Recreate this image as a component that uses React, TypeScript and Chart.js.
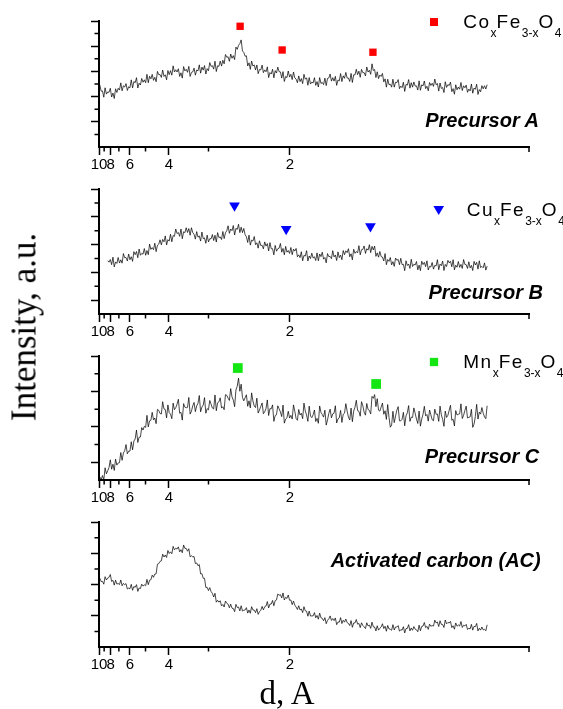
import React, { useEffect, useRef } from 'react';
import { Chart, registerables } from 'chart.js';

Chart.register(...registerables);

// ---------- data ----------
const WAVELENGTH = 1.5406; // Cu K-alpha, Å
const TWO_THETA_START = 9.0;
const TWO_THETA_STEP = 0.25;

const PRECURSOR_A = [
  4.91, 4.43, 4.45, 3.95, 4.7, 4.2, 4.37, 4.34, 4.66, 3.97, 4.28, 3.85, 4.62, 4.33, 4.66, 4.52, 5.09, 4.46, 4.86, 4.76,
  5.03, 4.49, 4.78, 4.7, 5.33, 4.69, 5.2, 5.1, 5.5, 4.68, 5.06, 4.92, 5.44, 5.14, 5.33, 5.1, 5.77, 5.1, 5.62, 5.41,
  5.76, 5.29, 5.53, 5.18, 6.0, 5.74, 5.75, 5.52, 6.11, 5.6, 5.73, 5.33, 6.07, 5.74, 6.06, 5.7, 6.44, 5.95, 6.13, 5.95,
  6.21, 5.6, 5.89, 5.47, 6.38, 6.04, 6.17, 5.93, 6.4, 5.6, 5.92, 5.96, 6.26, 5.7, 6.11, 6.04, 6.52, 5.86, 6.34, 6.1,
  6.46, 5.79, 6.22, 6.05, 6.7, 6.4, 6.45, 6.18, 6.81, 5.99, 6.45, 6.4, 6.82, 6.42, 6.88, 6.6, 7.34, 7.12, 7.16, 6.8,
  7.38, 7.04, 7.25, 6.94, 7.93, 7.75, 8.07, 8.2, 8.5, 7.62, 7.51, 7.2, 7.24, 6.43, 6.68, 6.16, 6.82, 6.43, 6.51, 6.11,
  6.51, 5.82, 6.15, 6.12, 6.5, 5.9, 6.12, 5.97, 6.36, 5.51, 5.91, 5.79, 6.17, 5.49, 6.06, 5.87, 6.34, 5.98, 5.96, 5.47,
  5.98, 5.2, 5.6, 5.51, 6.03, 5.55, 5.77, 5.35, 5.95, 5.49, 5.39, 5.1, 5.64, 5.19, 5.43, 5.03, 5.77, 5.38, 5.49, 4.9,
  5.51, 5.0, 5.15, 5.08, 5.5, 4.89, 5.19, 4.76, 5.51, 5.04, 5.13, 4.95, 5.47, 4.87, 5.44, 5.48, 5.79, 5.23, 5.5, 5.23,
  5.61, 4.89, 5.32, 5.25, 5.83, 5.19, 5.65, 5.45, 5.92, 5.47, 5.47, 5.2, 5.84, 5.12, 5.73, 5.72, 6.17, 5.74, 6.02, 5.53,
  6.16, 5.9, 5.9, 5.64, 6.35, 5.95, 6.09, 5.77, 6.6, 6.07, 6.15, 5.51, 5.97, 5.43, 5.71, 5.6, 5.84, 5.17, 5.41, 4.75,
  5.38, 4.95, 4.98, 4.75, 5.38, 4.75, 5.14, 5.11, 5.35, 4.63, 4.83, 4.71, 5.14, 4.41, 4.97, 4.91, 5.35, 4.67, 5.1, 4.75,
  5.16, 4.83, 4.85, 4.52, 5.25, 4.5, 4.93, 4.85, 5.24, 4.63, 4.82, 4.46, 5.12, 4.88, 5.06, 4.81, 5.39, 4.94, 5.04, 4.44,
  5.08, 4.65, 4.72, 4.32, 5.18, 4.73, 4.95, 4.88, 5.15, 4.39, 4.63, 4.19, 4.94, 4.54, 4.76, 4.59, 5.12, 4.48, 4.86, 4.7,
  4.91, 4.34, 4.6, 4.45, 5.0, 4.27, 4.68, 4.58, 4.98, 4.17, 4.56, 4.38, 4.87, 4.62, 4.86, 4.6, 4.95,
];

const PRECURSOR_B = [
  null, null, null, null, null, null, 3.84, 3.73, 3.92, 3.55, 4.09, 3.39, 3.75, 3.64, 4.07, 3.67, 3.9, 3.66, 4.35, 4.05,
  4.07, 3.82, 4.32, 3.91, 4.12, 3.79, 4.49, 4.27, 4.5, 4.05, 4.68, 4.23, 4.36, 4.31, 4.71, 4.23, 4.57, 4.27, 5.03, 4.65,
  4.78, 4.63, 5.1, 4.49, 4.95, 5.03, 5.34, 4.98, 5.37, 5.2, 5.62, 4.97, 5.35, 5.25, 5.74, 5.2, 5.65, 5.59, 6.12, 5.79,
  5.87, 5.59, 6.12, 5.42, 5.92, 5.86, 6.21, 5.87, 6.15, 5.67, 6.21, 5.86, 5.74, 5.39, 5.93, 5.53, 5.62, 5.25, 5.9, 5.42,
  5.48, 5.09, 5.68, 5.19, 5.42, 5.41, 5.72, 5.29, 5.67, 5.18, 5.86, 5.5, 5.55, 5.36, 5.94, 5.43, 5.85, 5.99, 6.35, 5.81,
  6.12, 6.0, 6.37, 5.69, 6.17, 6.09, 6.46, 5.86, 6.25, 5.86, 6.16, 5.71, 5.56, 5.15, 5.68, 4.96, 5.32, 5.25, 5.58, 4.99,
  5.13, 4.74, 5.27, 4.93, 4.95, 4.69, 5.19, 4.89, 5.07, 4.54, 5.14, 4.7, 4.7, 4.26, 4.94, 4.52, 4.7, 4.74, 5.08, 4.45,
  4.72, 4.26, 4.87, 4.45, 4.57, 4.36, 4.79, 4.27, 4.67, 4.53, 4.72, 4.12, 4.26, 4.06, 4.48, 3.83, 4.22, 4.17, 4.56, 3.82,
  4.18, 3.99, 4.38, 4.03, 4.12, 3.85, 4.4, 3.83, 4.32, 4.13, 4.45, 3.95, 4.07, 3.68, 4.35, 4.13, 4.15, 3.98, 4.56, 4.11,
  4.25, 3.85, 4.47, 4.06, 4.24, 3.91, 4.57, 4.27, 4.55, 4.42, 4.7, 4.12, 4.34, 3.9, 4.66, 4.37, 4.5, 4.4, 4.92, 4.26,
  4.63, 4.65, 4.9, 4.36, 4.7, 4.6, 4.99, 4.42, 4.87, 4.61, 4.89, 4.15, 4.4, 4.09, 4.5, 4.14, 4.1, 3.82, 4.35, 3.55,
  3.92, 3.79, 4.07, 3.54, 3.77, 3.43, 4.03, 3.87, 3.93, 3.55, 4.01, 3.55, 3.58, 3.12, 3.83, 3.49, 3.6, 3.28, 3.94, 3.42,
  3.58, 3.53, 3.78, 3.18, 3.52, 3.12, 3.8, 3.56, 3.72, 3.41, 3.83, 3.17, 3.43, 3.39, 3.71, 3.23, 3.5, 3.46, 3.91, 3.19,
  3.59, 3.48, 3.81, 3.13, 3.57, 3.42, 3.86, 3.68, 3.8, 3.4, 3.91, 3.18, 3.51, 3.37, 3.78, 3.36, 3.57, 3.28, 3.92, 3.57,
  3.55, 3.28, 3.76, 3.32, 3.5, 3.13, 3.79, 3.53, 3.72, 3.23, 3.83, 3.34, 3.43, 3.33, 3.68, 3.16, 3.45,
];

const PRECURSOR_C = [
  0.17, 0.02, 0.25, 0.0, 0.69, 0.35, 0.52, 0.71, 1.14, 0.61, 0.89, 0.54, 1.18, 0.84, 0.96, 0.98, 1.55, 1.11, 1.53, 1.65,
  2.0, 1.48, 1.63, 1.63, 2.16, 1.7, 2.2, 2.32, 2.82, 2.12, 2.42, 2.43, 2.96, 2.82, 3.03, 2.97, 3.65, 3.0, 3.34, 3.37,
  3.82, 3.39, 3.5, 3.18, 3.99, 3.93, 3.75, 3.73, 4.42, 4.01, 3.98, 3.51, 4.24, 3.8, 3.72, 3.46, 4.34, 3.97, 4.08, 4.28,
  4.56, 3.77, 3.82, 3.38, 4.31, 4.11, 4.08, 4.1, 4.66, 3.72, 3.88, 4.19, 4.38, 3.86, 4.18, 4.33, 4.77, 3.85, 4.12, 4.23,
  4.65, 3.77, 4.03, 3.96, 4.49, 4.28, 4.06, 4.01, 4.8, 3.91, 4.36, 4.41, 4.64, 4.06, 4.14, 3.97, 4.82, 4.78, 4.62, 4.49,
  5.16, 4.69, 4.51, 4.14, 5.08, 5.3, 5.75, 5.01, 5.41, 4.66, 4.47, 4.64, 4.81, 4.16, 4.47, 4.07, 4.92, 4.46, 4.18, 4.09,
  4.62, 3.78, 3.95, 4.15, 4.35, 3.74, 3.85, 4.04, 4.52, 3.64, 4.03, 4.02, 4.24, 3.31, 3.64, 3.68, 4.19, 4.02, 3.84, 3.58,
  4.23, 3.21, 3.44, 3.51, 3.88, 3.5, 3.65, 3.44, 4.24, 3.88, 3.47, 3.37, 3.98, 3.67, 3.77, 3.46, 4.34, 3.89, 3.67, 3.31,
  4.17, 3.61, 3.52, 3.68, 3.95, 3.3, 3.48, 3.2, 4.18, 3.81, 3.7, 3.55, 3.94, 3.1, 3.39, 3.76, 4.0, 3.51, 3.73, 3.77,
  4.19, 3.22, 3.45, 3.51, 3.93, 3.25, 3.71, 3.77, 4.31, 3.89, 3.55, 3.39, 4.06, 3.29, 3.89, 4.11, 4.5, 3.92, 3.88, 3.6,
  4.42, 4.19, 3.83, 3.66, 4.32, 3.98, 3.93, 3.73, 4.72, 4.61, 4.82, 4.14, 4.59, 3.94, 3.89, 4.12, 4.34, 3.71, 3.91, 3.42,
  4.26, 3.53, 2.98, 3.1, 3.88, 3.24, 3.61, 3.94, 4.14, 3.34, 3.34, 3.43, 3.82, 3.06, 3.62, 3.79, 4.2, 3.31, 3.55, 3.53,
  4.07, 3.76, 3.44, 3.19, 3.89, 3.04, 3.44, 3.71, 4.16, 3.62, 3.7, 3.32, 3.95, 3.68, 3.4, 3.34, 4.0, 3.71, 3.72, 3.31,
  4.17, 3.68, 3.42, 3.03, 3.89, 3.53, 3.65, 3.94, 4.22, 3.37, 3.43, 3.05, 3.92, 3.67, 3.71, 3.74, 4.3, 3.47, 3.65, 3.93,
  4.17, 3.5, 3.54, 3.56, 3.99, 2.97, 3.15, 3.59, 4.27, 3.44, 3.83, 3.72, 4.09, 3.77, 3.56, 3.46, 4.19,
];

const ACTIVATED_CARBON = [
  4.4, 4.19, 4.2, 4.02, 4.5, 4.29, 4.41, 4.46, 4.64, 4.19, 4.27, 3.96, 4.28, 4.03, 4.06, 4.0, 4.29, 3.92, 4.07, 3.99,
  4.06, 3.71, 3.77, 3.73, 4.01, 3.63, 3.87, 3.82, 3.99, 3.56, 3.78, 3.74, 4.02, 3.9, 3.98, 3.92, 4.33, 3.99, 4.27, 4.3,
  4.6, 4.46, 4.67, 4.68, 5.3, 5.34, 5.48, 5.51, 5.94, 5.76, 5.89, 5.73, 6.18, 5.98, 6.09, 5.97, 6.44, 6.22, 6.32, 6.27,
  6.41, 6.09, 6.23, 6.03, 6.53, 6.31, 6.31, 6.13, 6.29, 5.77, 5.84, 5.77, 5.79, 5.34, 5.38, 5.2, 5.28, 4.68, 4.69, 4.4,
  4.4, 3.81, 3.82, 3.61, 3.8, 3.55, 3.43, 3.2, 3.44, 2.87, 2.99, 2.87, 2.96, 2.63, 2.72, 2.56, 2.94, 2.8, 2.74, 2.51,
  2.74, 2.48, 2.47, 2.26, 2.73, 2.53, 2.56, 2.31, 2.64, 2.3, 2.35, 2.37, 2.52, 2.17, 2.37, 2.16, 2.58, 2.37, 2.36, 2.2,
  2.45, 2.09, 2.26, 2.35, 2.6, 2.38, 2.58, 2.62, 2.91, 2.5, 2.75, 2.75, 2.98, 2.64, 2.97, 3.01, 3.39, 3.31, 3.35, 3.14,
  3.46, 3.01, 3.18, 3.11, 3.33, 2.99, 3.01, 2.71, 2.94, 2.68, 2.56, 2.4, 2.64, 2.37, 2.43, 2.2, 2.58, 2.32, 2.29, 1.97,
  2.3, 1.98, 1.99, 1.99, 2.2, 1.87, 2.02, 1.78, 2.17, 1.87, 1.83, 1.68, 1.88, 1.49, 1.71, 1.8, 1.99, 1.7, 1.82, 1.69,
  1.86, 1.43, 1.6, 1.59, 1.88, 1.5, 1.71, 1.59, 1.79, 1.56, 1.51, 1.37, 1.69, 1.26, 1.54, 1.54, 1.76, 1.46, 1.51, 1.24,
  1.55, 1.38, 1.29, 1.18, 1.55, 1.35, 1.4, 1.19, 1.59, 1.29, 1.28, 1.03, 1.36, 1.08, 1.2, 1.28, 1.49, 1.18, 1.33, 1.01,
  1.38, 1.16, 1.14, 1.07, 1.43, 1.09, 1.28, 1.28, 1.37, 1.01, 1.11, 1.08, 1.3, 0.9, 1.18, 1.19, 1.43, 1.03, 1.22, 1.07,
  1.31, 1.14, 1.1, 0.98, 1.4, 1.04, 1.32, 1.34, 1.57, 1.24, 1.32, 1.13, 1.46, 1.33, 1.37, 1.34, 1.72, 1.54, 1.6, 1.31,
  1.68, 1.45, 1.44, 1.25, 1.73, 1.48, 1.57, 1.54, 1.64, 1.24, 1.36, 1.14, 1.54, 1.33, 1.41, 1.34, 1.63, 1.25, 1.39, 1.35,
  1.45, 1.12, 1.2, 1.16, 1.45, 1.08, 1.32, 1.3, 1.51, 1.03, 1.2, 1.08, 1.28, 1.1, 1.13, 1.04, 1.42,
];

const TWO_THETA = PRECURSOR_A.map((_, i) => TWO_THETA_START + i * TWO_THETA_STEP);

// peak markers (2θ, intensity in panel units)
const CO_PEAK_2THETA = [35.8, 43.83, 61.18];
const CO_PEAK_Y = [9.58, 7.7, 7.52];
const CU_PEAK_2THETA = [34.73, 44.6, 60.7];
const CU_PEAK_Y = [7.81, 6.11, 6.31];
const MN_PEAK_2THETA = [35.36, 61.79];
const MN_PEAK_Y = [6.32, 5.42];

// axis tick labels (d-spacing, Å)
const MAJOR_D = [10, 8, 6, 4, 2];
const MINOR_D = [9, 7, 5, 3];

const dToTwoTheta = (d: number) => (2 * Math.asin(WAVELENGTH / (2 * d)) * 180) / Math.PI;
const MAJOR_TWO_THETA = MAJOR_D.map(dToTwoTheta);
const MINOR_TWO_THETA = MINOR_D.map(dToTwoTheta);
const X_MIN = dToTwoTheta(10);
const X_MAX = 91;

const SANS = "'Liberation Sans', Arial, sans-serif";
const SERIF = "'Liberation Serif', 'Times New Roman', serif";

type LegendMarker = { x: number; y: number; shape: 'rect' | 'triangle'; w: number; h: number; color: string };

type PanelSpec = {
  canvasTop: number;
  canvasHeight: number;
  padTop: number;
  padBottom: number;
  yMax: number;
  values: (number | null)[];
  peaksX: number[];
  peaksY: number[];
  marker: 'rect' | 'triangle';
  markerColor: string;
  markerRadius: number;
  legendMarker?: LegendMarker;
};

const RED = '#ff0000';
const BLUE = '#0000ff';
const GREEN = '#14e614';

const PANELS: PanelSpec[] = [
  {
    canvasTop: 0, canvasHeight: 180, padTop: 21, padBottom: 3, yMax: 10,
    values: PRECURSOR_A, peaksX: CO_PEAK_2THETA, peaksY: CO_PEAK_Y,
    marker: 'rect', markerColor: RED, markerRadius: 5.2,
    legendMarker: { x: 434, y: 22, shape: 'rect', w: 8, h: 8, color: RED },
  },
  {
    canvasTop: 180, canvasHeight: 165, padTop: 9, padBottom: 1, yMax: 9,
    values: PRECURSOR_B, peaksX: CU_PEAK_2THETA, peaksY: CU_PEAK_Y,
    marker: 'triangle', markerColor: BLUE, markerRadius: 6.2,
    legendMarker: { x: 438.7, y: 30.5, shape: 'triangle', w: 10.7, h: 9, color: BLUE },
  },
  {
    canvasTop: 345, canvasHeight: 170, padTop: 11, padBottom: 5, yMax: 7,
    values: PRECURSOR_C, peaksX: MN_PEAK_2THETA, peaksY: MN_PEAK_Y,
    marker: 'rect', markerColor: GREEN, markerRadius: 6.9,
    legendMarker: { x: 434, y: 17, shape: 'rect', w: 8.3, h: 8.3, color: GREEN },
  },
  {
    canvasTop: 515, canvasHeight: 165, padTop: 7, padBottom: 3, yMax: 8,
    values: ACTIVATED_CARBON, peaksX: [], peaksY: [],
    marker: 'rect', markerColor: RED, markerRadius: 0,
  },
];

const isLongTick = (v: number, yMax: number) => v > 0 && (yMax - v) % 2 === 0;

const axisDecor = {
  id: 'axisDecor',
  afterDraw(chart: any, _args: any, opts: any) {
    const { ctx, chartArea, scales } = chart;
    const yMax: number = opts.yMax;
    ctx.save();
    ctx.strokeStyle = '#000';
    ctx.lineWidth = 1.5;
    ctx.beginPath();
    for (const t of MINOR_TWO_THETA) {
      const px = scales.x.getPixelForValue(t);
      ctx.moveTo(px, chartArea.bottom);
      ctx.lineTo(px, chartArea.bottom + 4.5);
    }
    const pxEnd = scales.x.getPixelForValue(X_MAX);
    ctx.moveTo(pxEnd, chartArea.bottom);
    ctx.lineTo(pxEnd, chartArea.bottom + 5);
    for (let v = 1; v < yMax; v++) {
      if (isLongTick(v, yMax)) continue;
      const py = scales.y.getPixelForValue(v);
      ctx.moveTo(chartArea.left - 4.5, py);
      ctx.lineTo(chartArea.left, py);
    }
    ctx.stroke();
    const lm: LegendMarker | undefined = opts.legendMarker;
    if (lm) {
      ctx.fillStyle = lm.color;
      if (lm.shape === 'rect') {
        ctx.fillRect(lm.x - lm.w / 2, lm.y - lm.h / 2, lm.w, lm.h);
      } else {
        ctx.beginPath();
        ctx.moveTo(lm.x - lm.w / 2, lm.y - lm.h / 2);
        ctx.lineTo(lm.x + lm.w / 2, lm.y - lm.h / 2);
        ctx.lineTo(lm.x, lm.y + lm.h / 2);
        ctx.closePath();
        ctx.fill();
      }
    }
    ctx.restore();
  },
};

function Panel({ spec }: { spec: PanelSpec }) {
  const ref = useRef<HTMLCanvasElement>(null);
  useEffect(() => {
    if (!ref.current) return;
    const linePoints = TWO_THETA.map((x, i) => ({ x, y: spec.values[i] }));
    const peakPoints = spec.peaksX.map((x, i) => ({ x, y: spec.peaksY[i] }));
    const chart = new Chart(ref.current, {
      type: 'line',
      data: {
        datasets: [
          {
            data: peakPoints as any,
            showLine: false,
            pointStyle: spec.marker,
            pointRotation: spec.marker === 'triangle' ? 180 : 0,
            pointRadius: spec.markerRadius,
            pointBackgroundColor: spec.markerColor,
            pointBorderColor: spec.markerColor,
            pointBorderWidth: 0,
            clip: false as any,
            order: 1,
          },
          {
            data: linePoints as any,
            borderColor: 'rgba(0,0,0,0.8)',
            borderWidth: 0.9,
            pointRadius: 0,
            tension: 0,
            spanGaps: false,
            order: 2,
          },
        ],
      },
      options: {
        responsive: false,
        animation: false,
        events: [],
        layout: { padding: { left: 89, right: 34, top: spec.padTop, bottom: spec.padBottom } },
        plugins: {
          legend: { display: false },
          tooltip: { enabled: false },
          title: { display: false },
          axisDecor: { yMax: spec.yMax, legendMarker: spec.legendMarker },
        } as any,
        scales: {
          x: {
            type: 'linear',
            min: X_MIN,
            max: X_MAX,
            afterBuildTicks: (scale: any) => {
              scale.ticks = MAJOR_TWO_THETA.map((v) => ({ value: v }));
            },
            afterFit: (scale: any) => {
              scale.height = 30;
            },
            grid: {
              display: true,
              drawOnChartArea: false,
              drawTicks: true,
              tickLength: 8,
              tickWidth: 1.5,
              tickColor: '#000',
              color: '#000',
            },
            border: { display: true, color: '#000', width: 2 },
            ticks: {
              autoSkip: false,
              maxRotation: 0,
              padding: 1,
              color: '#000',
              font: { family: SANS, size: 15 },
              callback: (value: any) => {
                const i = MAJOR_TWO_THETA.findIndex((t) => Math.abs(t - Number(value)) < 1e-6);
                return i >= 0 ? String(MAJOR_D[i]) : '';
              },
            },
          },
          y: {
            type: 'linear',
            min: 0,
            max: spec.yMax,
            afterFit: (scale: any) => {
              scale.width = 10;
            },
            grid: {
              display: true,
              drawOnChartArea: false,
              drawTicks: true,
              tickLength: 8,
              tickWidth: 1.5,
              tickColor: (c: any) => (isLongTick(c.tick?.value ?? 0, spec.yMax) ? '#000' : 'rgba(0,0,0,0)'),
            },
            border: { display: true, color: '#000', width: 2 },
            ticks: { display: false, stepSize: 1 },
          },
        },
      } as any,
      plugins: [axisDecor],
    });
    return () => chart.destroy();
  }, [spec]);
  return (
    <canvas
      ref={ref}
      width={563}
      height={spec.canvasHeight}
      style={{ position: 'absolute', left: 0, top: spec.canvasTop, width: 563, height: spec.canvasHeight }}
    />
  );
}

const subStyle: React.CSSProperties = { fontSize: '12px', verticalAlign: '-9px', letterSpacing: 0 };

function Formula({ metal, left, top }: { metal: string; left: number; top: number }) {
  return (
    <div
      style={{
        position: 'absolute', left, top, fontFamily: SANS, fontSize: '19px', lineHeight: '19px',
        letterSpacing: '1.5px', whiteSpace: 'nowrap', color: '#000',
      }}
    >
      {metal}<span style={subStyle}>x</span>Fe<span style={subStyle}>3-x</span>O<span style={subStyle}>4</span>
    </div>
  );
}

function PanelLabel({ text, right, top }: { text: string; right: number; top: number }) {
  return (
    <div
      style={{
        position: 'absolute', right, top, fontFamily: SANS, fontSize: '20px', lineHeight: '20px',
        fontWeight: 'bold', fontStyle: 'italic', whiteSpace: 'nowrap', color: '#000',
      }}
    >
      {text}
    </div>
  );
}

export default function App() {
  return (
    <div
      style={{
        position: 'absolute', left: 0, top: 0, width: 563, height: 709, overflow: 'hidden', background: '#fff',
      }}
    >
      {PANELS.map((p, i) => (
        <Panel key={i} spec={p} />
      ))}
      <Formula metal="Co" left={463.3} top={12.2} />
      <Formula metal="Cu" left={466.7} top={199.9} />
      <Formula metal="Mn" left={463.3} top={352.2} />
      <PanelLabel text="Precursor A" right={24} top={109.8} />
      <PanelLabel text="Precursor B" right={20} top={282.4} />
      <PanelLabel text="Precursor C" right={23.7} top={445.8} />
      <PanelLabel text="Activated carbon (AC)" right={22.3} top={549.8} />
      <div
        style={{
          position: 'absolute', left: 24, top: 327, transform: 'translate(-50%, -50%) rotate(-90deg)',
          fontFamily: SERIF, fontSize: '35px', lineHeight: '35px', whiteSpace: 'nowrap', color: '#000',
        }}
      >
        Intensity, a.u.
      </div>
      <div
        style={{
          position: 'absolute', left: 287, top: 677.4, transform: 'translateX(-50%)',
          fontFamily: SERIF, fontSize: '33px', lineHeight: '33px', whiteSpace: 'nowrap', color: '#000',
        }}
      >
        d, A
      </div>
    </div>
  );
}
